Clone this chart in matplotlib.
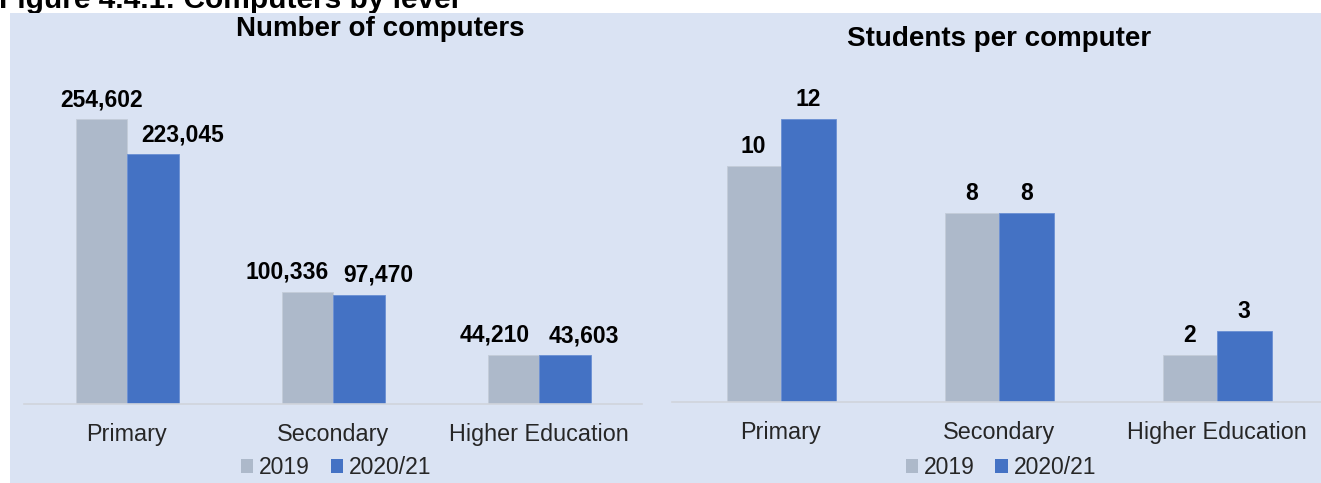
import matplotlib
matplotlib.use("Agg")
import matplotlib.pyplot as plt
from matplotlib.patches import Rectangle, Patch

# --- data -------------------------------------------------------------
levels = ["Primary", "Secondary", "Higher Education"]
series_names = ["2019", "2020/21"]

computers_2019 = [254602, 100336, 44210]
computers_2021 = [223045, 97470, 43603]

students_per_pc_2019 = [10, 8, 2]
students_per_pc_2021 = [12, 8, 3]

fig_title = "Figure 4.4.1: Computers by level"
left_title = "Number of computers"
right_title = "Students per computer"

# --- style ------------------------------------------------------------
FONT = ["Liberation Sans", "DejaVu Sans"]
GREY = "#ADB9CA"
BLUE = "#4472C4"
PANEL_BG = "#DAE3F3"
AXIS_LINE = "#D0D4DC"
TICK_TXT = "#262626"

W, H, DPI = 1321, 483, 100
fig = plt.figure(figsize=(W / DPI, H / DPI), dpi=DPI, facecolor="white")


def px_box(x0, x1, y_top, y_bottom):
    """Axes rectangle in figure fractions from pixel edges (y measured from top)."""
    return [x0 / W, 1 - y_bottom / H, (x1 - x0) / W, (y_bottom - y_top) / H]


# light-blue panel behind both charts
fig.patches.append(Rectangle((10 / W, 0), 1 - 10 / W, 1 - 13 / H,
                             transform=fig.transFigure, facecolor=PANEL_BG,
                             edgecolor="none", zorder=-5))

fig.text(-0.001, 1 - 8 / H, fig_title, ha="left", va="baseline",
         fontsize=21.5, fontweight="bold", family=FONT, zorder=-6)

BAR_W = 0.25


def draw_panel(ax, v2019, v2021, ymax, fmt, nudges, title, title_xy):
    xs = list(range(len(levels)))
    ax.bar([x - BAR_W / 2 for x in xs], v2019, width=BAR_W, color=GREY,
           edgecolor="#C3CCD9", linewidth=0.6, zorder=2)
    ax.bar([x + BAR_W / 2 for x in xs], v2021, width=BAR_W, color=BLUE,
           edgecolor="#6A8FD3", linewidth=0.6, zorder=2)
    for x, a, b, (da, db) in zip(xs, v2019, v2021, nudges):
        ax.annotate(fmt(a), xy=(x - BAR_W / 2, a), xytext=(da, 13),
                    textcoords="offset pixels", ha="center", va="baseline",
                    fontsize=16.5, fontweight="bold", family=FONT, color="black")
        ax.annotate(fmt(b), xy=(x + BAR_W / 2, b), xytext=(db, 13),
                    textcoords="offset pixels", ha="center", va="baseline",
                    fontsize=16.5, fontweight="bold", family=FONT, color="black")
    ax.set_xlim(-0.5, len(levels) - 0.5)
    ax.set_ylim(0, ymax)
    ax.set_facecolor("none")
    for side in ("top", "left", "right"):
        ax.spines[side].set_visible(False)
    ax.spines["bottom"].set_color(AXIS_LINE)
    ax.spines["bottom"].set_linewidth(1.2)
    ax.set_yticks([])
    ax.set_xticks(xs)
    ax.set_xticklabels(levels, fontsize=16.8, family=FONT, color=TICK_TXT)
    ax.tick_params(axis="x", length=0, pad=14)
    fig.text(title_xy[0] / W, 1 - title_xy[1] / H, title, ha="center",
             va="baseline", fontsize=20, fontweight="bold", family=FONT)
    handles = [Patch(facecolor=GREY, edgecolor="none"),
               Patch(facecolor=BLUE, edgecolor="none")]
    return handles


# left panel: number of computers
ax_l = fig.add_axes(px_box(24, 642, 60, 404))
left_ymax = 254602 / 285 * 344
h = draw_panel(ax_l, computers_2019, computers_2021, left_ymax,
               lambda v: f"{v:,}", [(0, 30), (-20, 20), (-19, 19)],
               left_title, (380, 36))
fig.legend(h, series_names, loc="center", bbox_to_anchor=(336 / W, 1 - 468 / H),
           ncol=2, frameon=False, prop={"family": FONT, "size": 16.5},
           handlelength=0.55, handleheight=0.55, handletextpad=0.25,
           columnspacing=0.9, borderpad=0, labelcolor=TICK_TXT)

# right panel: students per computer
ax_r = fig.add_axes(px_box(672, 1326, 60, 402))
right_ymax = 342 / 23.6
h = draw_panel(ax_r, students_per_pc_2019, students_per_pc_2021, right_ymax,
               lambda v: f"{v}", [(0, 0), (0, 0), (0, 0)],
               right_title, (999, 46))
fig.legend(h, series_names, loc="center", bbox_to_anchor=(1001 / W, 1 - 468 / H),
           ncol=2, frameon=False, prop={"family": FONT, "size": 16.5},
           handlelength=0.55, handleheight=0.55, handletextpad=0.25,
           columnspacing=0.9, borderpad=0, labelcolor=TICK_TXT)

fig.savefig("out.png", dpi=DPI, facecolor="white")
